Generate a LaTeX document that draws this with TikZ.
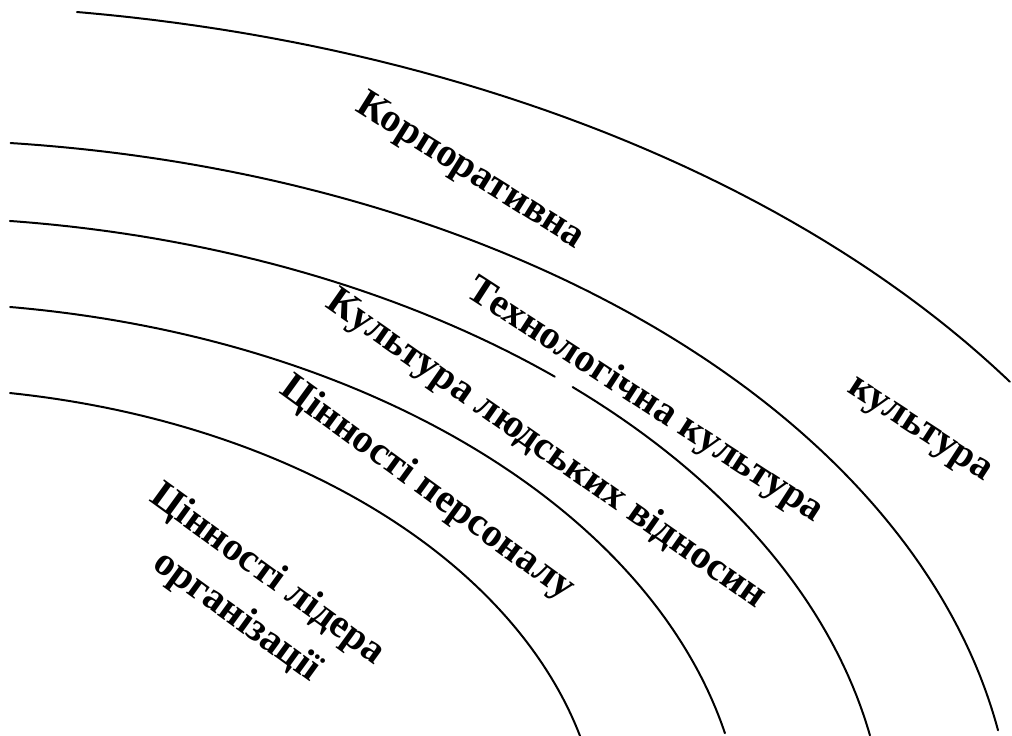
\documentclass[tikz,border=0pt]{standalone}
\usepackage{fontspec}
\setmainfont{Liberation Serif}
\begin{document}
\begin{tikzpicture}[x=1pt,y=-1pt,
  ring/.style={line width=2pt, black, line cap=round, line join=round},
  lbl/.style={font=\fontsize{40}{52}\selectfont\bfseries, inner sep=0pt, align=center}]
\useasboundingbox (0,0) rectangle (1012,736);
% concentric elliptic arcs, common centre (-100,850)
\draw[ring] plot[domain=82.37:33.63, samples=150, variable=\t] ({-100+1333*cos(\t)}, {850-845.5*sin(\t)});
\draw[ring] plot[domain=84.3:9.7, samples=150, variable=\t] ({-100+1114*cos(\t)}, {850-710.5*sin(\t)});
\draw[ring] plot[domain=83.6:48.4, samples=80, variable=\t] ({-100+986.3*cos(\t)}, {850-633*sin(\t)});
\draw[ring] plot[domain=47.0:10.43, samples=80, variable=\t] ({-100+986.3*cos(\t)}, {850-633*sin(\t)});
\draw[ring] plot[domain=82.51:12.31, samples=150, variable=\t] ({-100+844.4*cos(\t)}, {850-547.7*sin(\t)});
\draw[ring] plot[domain=80.98:14.29, samples=150, variable=\t] ({-100+701.7*cos(\t)}, {850-462.7*sin(\t)});
% labels
\node[lbl, rotate=-32] (korp) at (470,172) {Корпоративна};
\node[lbl, rotate=-33] (kult) at (918,432) {культура};
\node[lbl, rotate=-33] (tech) at (645,401) {Технологічна культура};
\node[lbl, rotate=-35] (ludy) at (546,450) {Культура людських відносин};
\node[lbl, rotate=-36] (pers) at (427,489) {Цінності персоналу};
\node[lbl, rotate=-36] (lider) at (252,596) {Цінності лідера\\організації};
\end{tikzpicture}
\end{document}
